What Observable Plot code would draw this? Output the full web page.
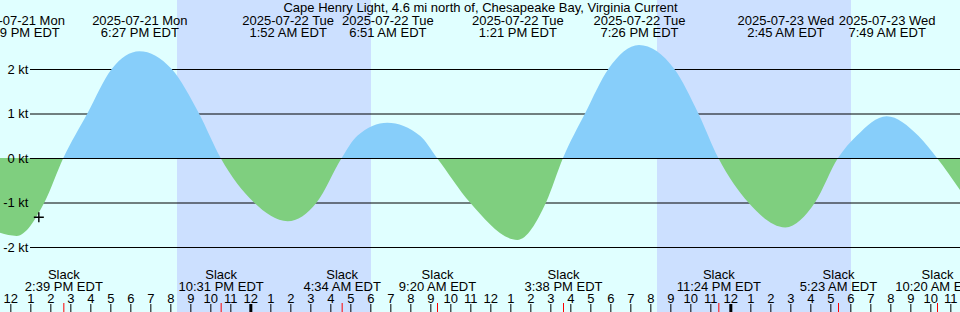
<!DOCTYPE html>
<html>
<head>
<meta charset="utf-8">
<script src="https://cdn.jsdelivr.net/npm/d3@7"></script>
<script src="https://cdn.jsdelivr.net/npm/@observablehq/plot@0.6"></script>
<style>
  html, body { margin: 0; padding: 0; background: #fff; }
  #chart svg { display: block; }
</style>
</head>
<body>
<div id="chart"></div>
<script>
const title = "Cape Henry Light, 4.6 mi north of, Chesapeake Bay, Virginia Current";
const domainTimes = ["2025-07-21 11:29", "2025-07-23 11:29"];
const curveTimes = [
  "2025-07-21 11:29", "2025-07-21 12:19", "2025-07-21 13:42", "2025-07-21 14:39",
  "2025-07-21 15:51", "2025-07-21 17:04", "2025-07-21 18:27", "2025-07-21 20:04",
  "2025-07-21 21:26", "2025-07-21 22:31", "2025-07-22 00:11", "2025-07-22 01:52",
  "2025-07-22 03:19", "2025-07-22 04:34", "2025-07-22 05:21", "2025-07-22 06:51",
  "2025-07-22 08:29", "2025-07-22 09:20", "2025-07-22 10:59", "2025-07-22 13:21",
  "2025-07-22 14:47", "2025-07-22 15:38", "2025-07-22 16:44", "2025-07-22 17:54",
  "2025-07-22 19:26", "2025-07-22 21:12", "2025-07-22 22:24", "2025-07-22 23:24",
  "2025-07-23 00:54", "2025-07-23 02:45", "2025-07-23 04:14", "2025-07-23 05:23",
  "2025-07-23 06:19", "2025-07-23 07:49", "2025-07-23 09:24", "2025-07-23 10:20",
  "2025-07-23 11:29"
];
const curveKnots = [
  -1.68, -1.75, -1.0, 0,
  1.0, 2.0, 2.40, 2.0,
  1.0, 0, -1.0, -1.42,
  -1.0, 0, 0.5, 0.79,
  0.5, 0, -1.0, -1.84,
  -1.0, 0, 1.0, 2.0,
  2.54, 2.0, 1.0, 0,
  -1.0, -1.56, -1.0, 0,
  0.5, 0.94, 0.5, 0,
  -0.72
];
const maxTimes = [
  "2025-07-21 12:19", "2025-07-21 18:27", "2025-07-22 01:52", "2025-07-22 06:51",
  "2025-07-22 13:21", "2025-07-22 19:26", "2025-07-23 02:45", "2025-07-23 07:49"
];
const slackTimes = [
  "2025-07-21 14:39", "2025-07-21 22:31", "2025-07-22 04:34", "2025-07-22 09:20",
  "2025-07-22 15:38", "2025-07-22 23:24", "2025-07-23 05:23", "2025-07-23 10:20"
];
const sunsets = ["2025-07-21 20:20", "2025-07-22 20:20"];
const sunrises = ["2025-07-22 06:02", "2025-07-23 06:02"];
const speedTicks = [2, 1, 0, -1, -2];
const nowTime = "2025-07-21 13:24";
const nowKnots = -1.32;

const parse = d3.utcParse("%Y-%m-%d %H:%M");
const fmtDate = d3.utcFormat("%Y-%m-%d %a");
const fmtTime = d3.utcFormat("%-I:%M %p EDT");
const fmtHour = d3.utcFormat("%-I");

const domain = domainTimes.map(parse);
const curve = curveTimes.map((t, i) => ({time: parse(t), kt: curveKnots[i]}));
const maxima = maxTimes.map(parse);
const slacks = slackTimes.map(parse);
const nights = sunsets.map((s, i) => ({start: parse(s), end: parse(sunrises[i])}));
const hours = d3.utcHour.range(d3.utcHour.ceil(domain[0]), domain[1]);

const plusSymbol = {
  draw(ctx, size) {
    const r = Math.sqrt(size / Math.PI);
    ctx.moveTo(-r, 0); ctx.lineTo(r, 0);
    ctx.moveTo(0, -r); ctx.lineTo(0, r);
  }
};

const chart = Plot.plot({
  width: 960,
  height: 312,
  margin: 0,
  style: {fontFamily: "'Liberation Sans', Arial, sans-serif", fontSize: "13px", background: "#e0ffff", color: "#000"},
  x: {type: "utc", domain, range: [0, 960], axis: null},
  y: {domain: [-2, 2], range: [247, 69], axis: null},
  marks: [
    Plot.rect(nights, {x1: "start", x2: "end", fill: "#cce0ff"}),
    Plot.ruleY(speedTicks, {stroke: "#000", insetLeft: 30}),
    Plot.areaY(curve, {x: "time", y: "kt", curve: "monotone-x", fill: "url(#flowGrad)"}),
    Plot.ruleY([0], {stroke: "#000", insetLeft: 30}),
    Plot.text(speedTicks, {y: d => d, frameAnchor: "left", dx: 28, textAnchor: "end", text: d => `${d} kt`, fontSize: 13}),
    Plot.text([title], {frameAnchor: "top", lineAnchor: "bottom", dy: 11, text: d => d, fontSize: 13}),
    Plot.text(maxima, {x: d => d, frameAnchor: "top", lineAnchor: "bottom", dy: 36, lineHeight: 0.86,
      text: d => `${fmtDate(d)}\n${fmtTime(d)}`, fontSize: 13}),
    Plot.text(slacks, {x: d => d, frameAnchor: "bottom", lineAnchor: "bottom", dy: -22, lineHeight: 0.9,
      text: d => `Slack\n${fmtTime(d)}`, fontSize: 13}),
    Plot.text(hours, {x: d => d, frameAnchor: "bottom", lineAnchor: "bottom", dy: -10, text: d => fmtHour(d), fontSize: 13}),
    Plot.ruleX(hours, {x: d => d, insetTop: 304, stroke: "#000", strokeWidth: d => d.getUTCHours() === 0 ? 3 : 1}),
    Plot.ruleX(slacks, {x: d => d, insetTop: 303, stroke: "#ff0000"}),
    Plot.dot([{time: parse(nowTime), kt: nowKnots}], {x: "time", y: "kt", r: 5, symbol: plusSymbol, stroke: "#000", strokeWidth: 1.4, fill: "none"})
  ]
});

const y0 = chart.scale("y").apply(0);
const svg = d3.select(chart);
const grad = svg.insert("defs", ":first-child").append("linearGradient")
  .attr("id", "flowGrad").attr("gradientUnits", "userSpaceOnUse")
  .attr("x1", 0).attr("x2", 0).attr("y1", y0 - 1).attr("y2", y0 + 1);
grad.append("stop").attr("offset", 0.5).attr("stop-color", "#87cefa");
grad.append("stop").attr("offset", 0.5).attr("stop-color", "#7fcf7f");

document.getElementById("chart").appendChild(chart);
</script>
</body>
</html>
